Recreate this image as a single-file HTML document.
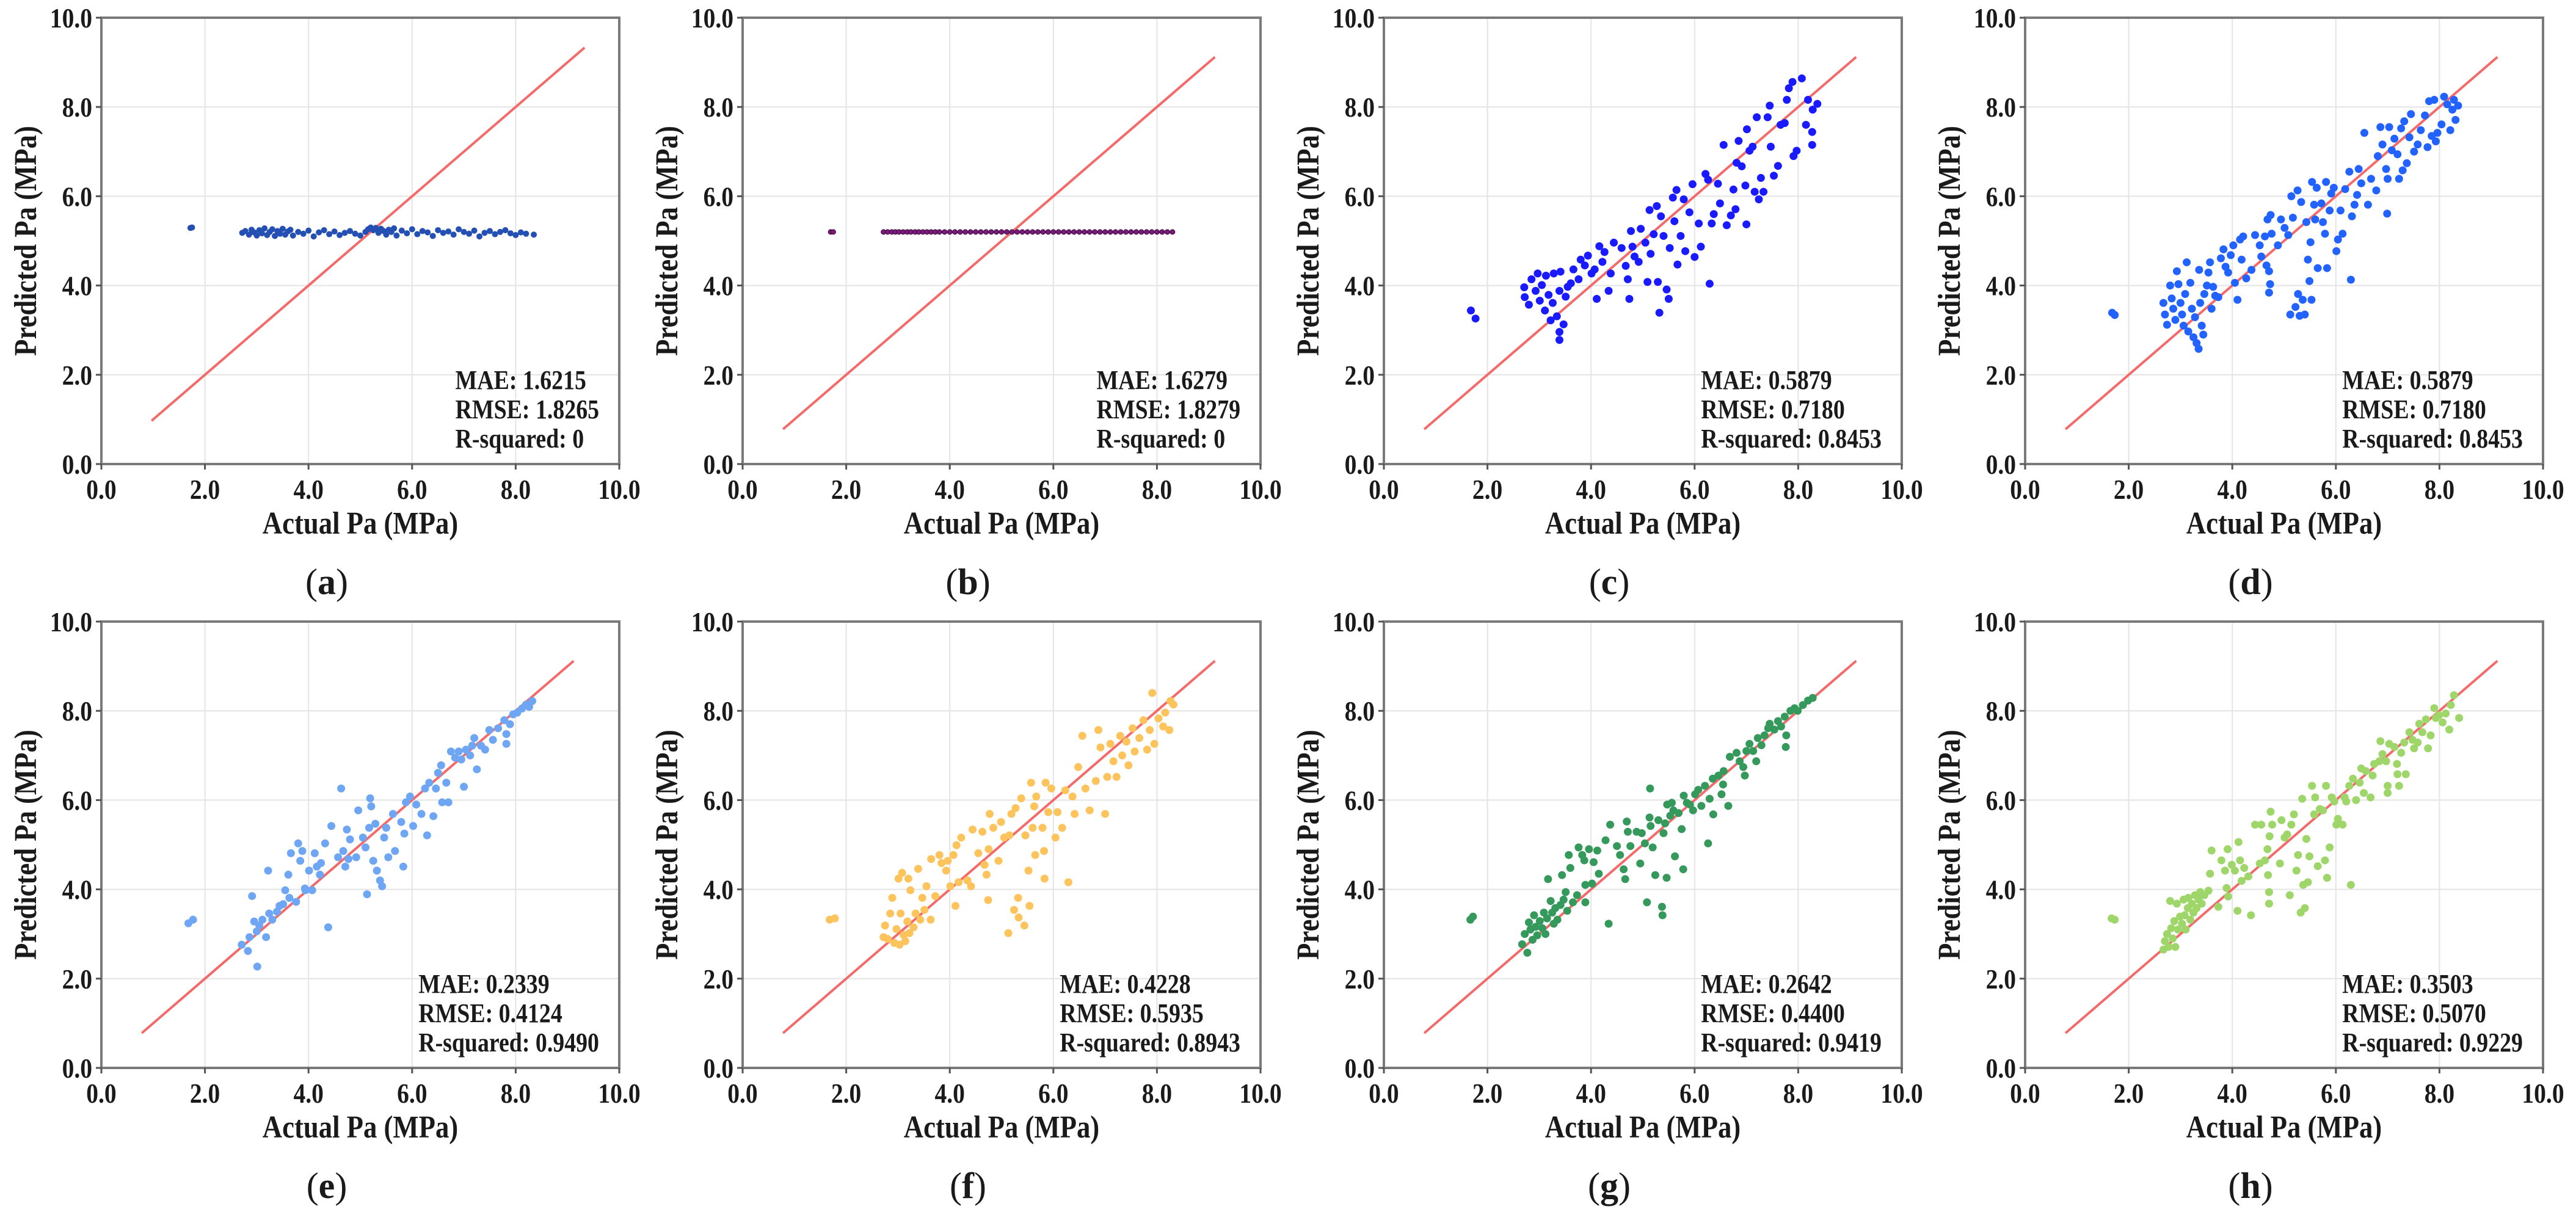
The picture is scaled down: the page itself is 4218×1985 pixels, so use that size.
<!DOCTYPE html>
<html><head><meta charset="utf-8"><style>
html,body{margin:0;padding:0;background:#fff;}
svg{display:block;}
text{font-family:"Liberation Serif","Times New Roman",serif;fill:#1a1a1a;}
</style></head><body>
<svg id="fig" width="4218" height="1985" viewBox="0 0 4218 1985" xmlns="http://www.w3.org/2000/svg"></svg>
<script>
const xTicks = [0, 2, 4, 6, 8, 10];
const yTicks = [0, 2, 4, 6, 8, 10];
const tickLabels = ["0.0", "2.0", "4.0", "6.0", "8.0", "10.0"];
const panelIds = ["a", "b", "c", "d", "e", "f", "g", "h"];
const panelColors = ["#2450b4", "#7a1a7a", "#1a1aff", "#2262ff", "#6fa6f4", "#fdc35c", "#35995c", "#9fd66a"];
const panelRadius = [5, 4, 6.5, 6.5, 6.5, 6.5, 6.5, 6.5];
const metricsMAE = ["1.6215", "1.6279", "0.5879", "0.5879", "0.2339", "0.4228", "0.2642", "0.3503"];
const metricsRMSE = ["1.8265", "1.8279", "0.7180", "0.7180", "0.4124", "0.5935", "0.4400", "0.5070"];
const metricsR2 = ["0", "0", "0.8453", "0.8453", "0.9490", "0.8943", "0.9419", "0.9229"];
const refLineStart = [0.97, 0.78, 0.78, 0.78, 0.78, 0.78, 0.78, 0.78];
const refLineEnd = [9.33, 9.12, 9.12, 9.12, 9.12, 9.12, 9.12, 9.12];

const aX = [1.72,1.75,2.72,2.78,2.85,2.9,2.95,3.0,3.05,3.1,3.15,3.2,3.25,3.3,3.35,3.4,3.45,3.5,3.55,3.6,3.65,3.7,3.8,3.9,4.0,4.1,4.2,4.3,4.4,4.5,4.6,4.7,4.8,4.9,5.0,5.1,5.15,5.2,5.25,5.3,5.35,5.4,5.45,5.5,5.55,5.6,5.65,5.7,5.8,5.9,6.0,6.1,6.2,6.3,6.4,6.5,6.6,6.7,6.8,6.9,7.0,7.1,7.2,7.3,7.4,7.5,7.6,7.7,7.8,7.9,8.0,8.1,8.2,8.35];
const aY = [5.29,5.3,5.18,5.22,5.14,5.25,5.19,5.12,5.24,5.17,5.28,5.13,5.2,5.26,5.11,5.22,5.16,5.27,5.14,5.21,5.25,5.12,5.2,5.16,5.23,5.1,5.19,5.24,5.15,5.21,5.13,5.18,5.22,5.16,5.12,5.2,5.26,5.3,5.24,5.29,5.18,5.27,5.22,5.14,5.25,5.2,5.28,5.12,5.23,5.17,5.26,5.15,5.22,5.19,5.11,5.24,5.18,5.21,5.14,5.26,5.2,5.16,5.23,5.1,5.18,5.22,5.15,5.2,5.24,5.17,5.13,5.19,5.16,5.14];
const bX = [1.7,1.75,2.72,2.8,2.88,2.95,3.02,3.1,3.18,3.25,3.33,3.4,3.48,3.56,3.64,3.72,3.8,3.9,4.0,4.1,4.2,4.3,4.4,4.5,4.6,4.7,4.8,4.9,5.0,5.1,5.2,5.3,5.4,5.5,5.6,5.7,5.8,5.9,6.0,6.1,6.2,6.3,6.4,6.5,6.6,6.7,6.8,6.9,7.0,7.1,7.2,7.3,7.4,7.5,7.6,7.7,7.8,7.9,8.0,8.1,8.2,8.3];
const bY = [5.2,5.2,5.2,5.2,5.2,5.2,5.2,5.2,5.2,5.2,5.2,5.2,5.2,5.2,5.2,5.2,5.2,5.2,5.2,5.2,5.2,5.2,5.2,5.2,5.2,5.2,5.2,5.2,5.2,5.2,5.2,5.2,5.2,5.2,5.2,5.2,5.2,5.2,5.2,5.2,5.2,5.2,5.2,5.2,5.2,5.2,5.2,5.2,5.2,5.2,5.2,5.2,5.2,5.2,5.2,5.2,5.2,5.2,5.2,5.2,5.2,5.2];
const cX = [1.68,1.77,2.71,2.72,2.80,2.85,2.93,2.97,3.01,3.05,3.11,3.13,3.18,3.22,3.26,3.28,3.34,3.39,3.39,3.39,3.41,3.47,3.51,3.55,3.61,3.66,3.76,3.80,3.88,3.94,4.01,4.07,4.11,4.16,4.22,4.26,4.34,4.38,4.44,4.59,4.67,4.71,4.74,4.77,4.80,4.84,4.92,4.96,5.05,5.09,5.13,5.15,5.21,5.27,5.29,5.32,5.35,5.40,5.46,5.50,5.52,5.58,5.61,5.65,5.67,5.73,5.79,5.82,5.90,5.96,6.0,6.08,6.12,6.21,6.26,6.29,6.33,6.37,6.45,6.49,6.56,6.62,6.70,6.75,6.79,6.81,6.85,6.91,6.98,7.0,7.01,7.06,7.12,7.16,7.20,7.24,7.28,7.33,7.41,7.45,7.47,7.53,7.61,7.66,7.74,7.78,7.82,7.89,7.91,7.97,8.07,8.15,8.19,8.27,8.27,8.28,8.37];
const cY = [3.44,3.26,3.96,3.74,3.57,4.14,3.88,4.27,3.66,4.01,3.44,4.22,3.79,3.22,3.61,4.27,3.31,3.88,2.96,2.78,4.31,3.13,3.75,3.97,4.05,4.36,4.14,4.58,4.45,4.67,4.27,4.36,3.70,4.88,4.53,4.75,3.88,4.27,4.96,4.84,4.44,4.14,3.70,5.22,4.87,4.65,4.53,5.27,4.96,4.08,5.69,4.71,5.15,5.78,4.08,3.39,5.55,5.11,3.91,3.70,4.84,5.97,5.44,6.14,4.47,5.11,5.93,4.77,5.64,6.27,4.64,5.39,4.87,6.50,6.37,4.04,5.39,5.60,6.28,5.84,7.15,5.35,5.57,6.15,5.71,6.75,7.24,6.67,6.24,5.37,7.50,7.02,7.11,6.10,7.77,5.93,6.41,6.10,7.77,8.03,7.11,6.46,6.68,7.60,7.64,8.16,8.42,8.56,6.90,7.02,8.64,7.60,8.16,7.44,7.15,7.94,8.07];
const dX = [1.68,1.73,2.67,2.70,2.74,2.80,2.83,2.86,2.90,2.93,2.96,3.0,3.03,3.06,3.09,3.12,3.15,3.19,3.22,3.25,3.28,3.31,3.35,3.36,3.38,3.41,3.44,3.46,3.51,3.54,3.57,3.60,3.63,3.67,3.73,3.78,3.83,3.87,3.92,3.97,4.02,4.05,4.1,4.15,4.18,4.21,4.27,4.37,4.44,4.53,4.56,4.63,4.66,4.68,4.71,4.73,4.74,4.71,4.76,4.88,4.94,5.01,5.08,5.12,5.14,5.17,5.22,5.26,5.27,5.30,5.33,5.36,5.40,5.43,5.46,5.49,5.51,5.53,5.54,5.58,5.60,5.63,5.65,5.72,5.75,5.79,5.81,5.83,5.88,5.91,5.96,6.01,6.04,6.09,6.13,6.18,6.26,6.29,6.31,6.36,6.41,6.44,6.49,6.55,6.62,6.68,6.78,6.81,6.86,6.90,6.97,6.99,7.0,7.03,7.08,7.13,7.19,7.22,7.26,7.29,7.32,7.37,7.42,7.45,7.51,7.58,7.64,7.72,7.77,7.80,7.85,7.90,7.93,7.96,8.04,8.09,8.15,8.21,8.25,8.28,8.31,8.36];
const dY = [3.39,3.34,3.61,3.35,3.12,4.0,3.71,3.48,3.23,4.32,4.03,3.61,3.35,3.10,3.81,4.52,2.97,4.06,3.48,2.84,3.29,2.71,2.58,4.35,3.61,3.10,2.90,3.81,4.0,4.29,4.52,3.48,3.97,3.77,3.74,4.61,4.81,4.42,4.29,4.68,4.90,4.06,3.68,5.03,4.58,5.10,4.16,4.35,5.13,4.90,4.65,5.10,4.45,5.48,4.32,4.03,5.58,3.84,5.16,4.90,5.48,5.29,5.13,3.35,6.0,5.52,3.52,6.13,3.81,3.32,5.87,3.68,3.35,5.42,4.58,4.10,4.97,3.68,6.32,5.81,5.48,6.19,4.39,5.84,5.42,5.16,6.32,4.39,5.68,6.06,6.19,4.77,5.03,5.68,5.16,6.16,6.55,4.13,5.55,5.81,6.03,6.61,6.29,7.42,5.81,6.39,6.13,6.90,7.55,7.16,6.61,5.61,6.39,7.55,7.03,7.29,6.94,6.39,7.52,6.58,7.68,6.74,7.32,7.84,7.0,7.16,7.48,7.81,7.10,8.13,7.35,8.16,7.23,7.42,7.61,8.23,8.06,7.48,7.94,8.16,7.71,8.03];
const eX = [1.68,1.77,2.71,2.83,2.86,2.91,2.95,3.0,3.01,3.05,3.11,3.18,3.22,3.24,3.30,3.39,3.44,3.51,3.55,3.61,3.63,3.66,3.76,3.80,3.84,3.88,3.93,3.94,4.01,4.07,4.12,4.16,4.22,4.24,4.32,4.38,4.44,4.57,4.63,4.67,4.71,4.74,4.77,4.80,4.92,4.96,5.05,5.10,5.13,5.17,5.19,5.21,5.25,5.29,5.32,5.38,5.42,5.46,5.50,5.54,5.63,5.67,5.79,5.83,5.85,5.88,5.96,6.02,6.08,6.18,6.25,6.29,6.33,6.41,6.46,6.50,6.56,6.58,6.66,6.70,6.75,6.83,6.90,6.95,7.0,7.04,7.12,7.16,7.20,7.25,7.33,7.41,7.49,7.56,7.66,7.78,7.82,7.82,7.89,7.95,8.03,8.12,8.20,8.26,8.32];
const eY = [3.24,3.32,2.76,2.62,2.93,3.85,3.28,3.06,2.27,3.19,3.32,2.93,4.42,3.46,3.32,3.50,3.63,3.67,3.98,4.33,3.81,4.81,3.72,5.03,4.64,4.86,4.02,3.98,4.42,3.98,4.81,4.51,4.33,4.59,5.03,3.15,5.42,4.72,6.26,4.86,4.51,5.34,4.68,5.12,4.72,5.77,5.16,4.94,3.89,5.38,6.04,5.86,4.64,5.47,4.42,4.20,4.07,5.16,5.38,4.72,5.69,4.86,5.51,4.51,5.25,5.95,6.08,5.42,5.90,5.69,6.26,5.21,6.39,5.64,6.26,6.61,6.78,5.95,6.39,5.95,7.09,6.95,7.09,6.91,6.30,7.13,7.0,7.22,7.39,6.69,7.22,7.13,7.57,7.35,7.61,7.79,7.48,7.26,7.70,7.92,7.96,8.05,8.14,8.09,8.22];
const fX = [1.68,1.78,2.72,2.75,2.80,2.85,2.89,2.93,2.97,3.01,3.03,3.05,3.08,3.11,3.14,3.18,3.20,3.22,3.24,3.30,3.34,3.39,3.43,3.47,3.51,3.55,3.63,3.64,3.72,3.80,3.84,3.93,3.96,4.01,4.07,4.11,4.13,4.17,4.22,4.34,4.41,4.44,4.55,4.63,4.67,4.71,4.74,4.75,4.77,4.84,4.94,4.99,5.05,5.13,5.15,5.19,5.24,5.27,5.32,5.33,5.38,5.44,5.46,5.52,5.54,5.57,5.60,5.63,5.65,5.67,5.79,5.82,5.83,5.85,5.90,5.96,6.04,6.08,6.17,6.23,6.29,6.37,6.41,6.48,6.56,6.62,6.70,6.82,6.87,6.91,7.0,7.04,7.10,7.16,7.22,7.29,7.33,7.41,7.45,7.53,7.57,7.66,7.74,7.81,7.86,7.91,7.95,8.03,8.12,8.16,8.24,8.26,8.32];
const fY = [3.32,3.35,2.93,3.19,2.89,3.46,3.81,2.80,3.11,4.24,2.76,3.46,4.37,2.98,2.84,3.28,4.24,3.02,3.98,3.15,3.46,4.46,3.32,3.81,3.54,4.07,3.32,4.68,3.85,4.77,4.59,4.42,4.64,4.07,4.77,3.63,4.99,4.16,5.16,4.20,4.07,5.34,4.81,5.29,4.55,4.33,3.76,4.90,5.69,5.38,4.64,5.51,5.16,3.02,5.21,5.69,3.54,5.82,3.81,3.37,6.04,3.19,5.21,4.42,3.63,6.39,5.38,5.86,4.77,6.08,5.38,4.86,4.24,6.39,5.73,6.26,5.16,5.73,5.38,6.22,4.16,6.08,5.69,6.74,7.44,6.26,5.77,6.43,7.57,7.18,5.69,6.52,7.26,6.87,6.52,7.44,7.0,7.31,6.78,7.61,7.09,7.39,7.79,7.13,7.57,8.40,7.26,7.83,7.65,7.96,7.57,8.22,8.14];
const gX = [1.67,1.72,2.67,2.72,2.77,2.80,2.83,2.87,2.90,2.93,2.96,3.01,3.06,3.09,3.12,3.15,3.17,3.22,3.25,3.28,3.31,3.35,3.41,3.44,3.47,3.51,3.54,3.57,3.60,3.65,3.73,3.76,3.83,3.87,3.89,3.89,3.96,4.02,4.05,4.12,4.15,4.28,4.34,4.37,4.50,4.56,4.63,4.66,4.69,4.71,4.76,4.88,4.95,4.98,5.04,5.08,5.13,5.14,5.15,5.19,5.24,5.30,5.37,5.38,5.40,5.43,5.46,5.47,5.53,5.56,5.59,5.62,5.69,5.75,5.78,5.79,5.85,5.91,5.97,6.01,6.07,6.13,6.20,6.26,6.29,6.35,6.36,6.46,6.52,6.55,6.56,6.65,6.68,6.81,6.87,6.94,6.97,7.0,7.06,7.13,7.19,7.22,7.29,7.35,7.42,7.45,7.54,7.61,7.67,7.74,7.76,7.77,7.85,7.93,7.99,8.09,8.19,8.28];
const gY = [3.32,3.39,2.77,3.0,2.58,3.26,3.10,2.87,3.42,3.16,2.97,3.29,3.13,3.48,3.0,3.35,4.23,3.74,3.48,3.23,3.58,3.32,3.65,4.32,3.77,3.94,3.52,4.77,4.48,3.71,3.87,4.94,4.77,4.65,3.71,4.10,4.90,4.13,4.61,4.87,4.35,5.10,3.23,5.45,4.97,4.77,4.45,4.23,5.52,5.29,4.97,5.29,4.58,5.26,5.03,3.71,5.61,6.26,5.42,4.94,4.32,5.55,3.61,3.42,5.26,5.48,4.26,5.90,5.65,5.94,5.77,4.74,5.71,5.35,4.45,6.10,5.94,5.90,5.77,6.13,6.23,5.87,6.32,5.03,6.03,6.48,5.68,6.55,6.13,6.35,6.65,5.87,6.97,7.06,6.87,6.74,6.55,7.10,7.26,7.10,6.87,7.39,7.23,7.45,7.61,7.71,7.58,7.77,7.65,7.87,7.19,7.45,8.0,8.06,8.0,8.13,8.23,8.29];
const hX = [1.67,1.73,2.67,2.70,2.74,2.77,2.80,2.82,2.85,2.88,2.90,2.93,2.95,2.99,3.03,3.06,3.08,3.10,3.14,3.15,3.19,3.22,3.25,3.28,3.31,3.35,3.38,3.41,3.46,3.54,3.57,3.60,3.73,3.79,3.86,3.89,3.91,3.92,3.99,4.05,4.10,4.12,4.15,4.18,4.23,4.31,4.36,4.44,4.53,4.56,4.63,4.68,4.69,4.71,4.71,4.72,4.74,4.77,4.92,4.95,5.01,5.06,5.11,5.14,5.19,5.24,5.27,5.32,5.35,5.37,5.40,5.43,5.46,5.49,5.54,5.58,5.60,5.65,5.69,5.75,5.79,5.81,5.83,5.88,5.92,5.97,6.01,6.04,6.13,6.17,6.20,6.26,6.29,6.33,6.39,6.46,6.49,6.54,6.58,6.67,6.71,6.74,6.84,6.86,6.90,6.97,7.0,7.0,7.03,7.13,7.18,7.19,7.22,7.26,7.32,7.35,7.42,7.48,7.51,7.58,7.61,7.67,7.74,7.78,7.83,7.90,7.93,7.99,8.06,8.12,8.19,8.22,8.28,8.38];
const hY = [3.35,3.32,2.65,2.84,3.0,2.71,3.74,3.13,2.90,3.29,2.71,3.68,3.10,3.39,3.23,3.77,3.42,3.10,3.58,3.81,3.32,3.68,3.48,3.87,3.58,3.77,3.94,3.68,3.87,3.97,4.35,4.87,3.61,4.65,4.42,4.03,4.90,3.84,4.55,4.42,3.52,5.06,4.65,4.19,4.48,4.29,3.42,5.45,4.58,5.45,4.65,4.90,4.32,3.94,3.68,5.19,5.74,5.45,4.58,5.55,5.16,5.23,3.87,5.45,5.68,4.42,4.77,3.48,6.03,4.10,3.58,5.13,4.16,4.74,6.32,5.68,6.06,4.52,5.80,5.77,4.65,6.32,4.26,4.94,6.06,5.97,5.45,5.58,5.45,6.06,5.97,6.32,4.10,6.48,6.0,6.39,6.71,6.16,6.65,6.06,6.55,6.81,6.87,7.32,7.03,6.87,6.32,6.16,7.26,7.19,6.81,6.58,6.32,7.06,7.29,6.58,7.52,7.35,7.16,7.29,7.71,7.52,7.81,7.16,7.45,8.06,7.84,7.90,7.74,7.94,7.58,8.13,8.35,7.84];
const seriesX = [aX, bX, cX, dX, eX, fX, gX, hX];
const seriesY = [aY, bY, cY, dY, eY, fY, gY, hY];

const NS = "http://www.w3.org/2000/svg";
const svg = document.getElementById("fig");
const PW = 848, PH = 731;
const colLeft = [166, 1216, 2266, 3316];
const rowTop = [29, 1018];
const SQUEEZE = 0.86;

function mk(tag, attrs, parent) {
  const e = document.createElementNS(NS, tag);
  for (const k in attrs) e.setAttribute(k, attrs[k]);
  parent.appendChild(e);
  return e;
}
function squeeze(t) {
  const w = t.getComputedTextLength();
  t.setAttribute("textLength", (w * SQUEEZE).toFixed(1));
  t.setAttribute("lengthAdjust", "spacingAndGlyphs");
  return w * SQUEEZE;
}

panelIds.forEach((pid, i) => {
  const L = colLeft[i % 4], T = rowTop[Math.floor(i / 4)];
  const sx = v => L + v / 10 * PW;
  const sy = v => T + PH - v / 10 * PH;
  const g = mk("g", {}, svg);
  
  

  xTicks.slice(1, 5).forEach(t => {
    const l = mk("line", {x1: sx(t), x2: sx(t), y1: T, y2: T + PH, stroke: "#e4e4e4", "stroke-width": 2}, g);
    
    
  });
  yTicks.slice(1, 5).forEach(t => {
    const l = mk("line", {x1: L, x2: L + PW, y1: sy(t), y2: sy(t), stroke: "#e4e4e4", "stroke-width": 2}, g);
    
    
  });

  const rl = mk("line", {x1: sx(refLineStart[i]), y1: sy(refLineStart[i]), x2: sx(refLineEnd[i]), y2: sy(refLineEnd[i]), stroke: "#f46a6a", "stroke-width": 4}, g);
  
  

  const xs = seriesX[i], ys = seriesY[i];
  for (let k = 0; k < xs.length; k++) {
    const c = mk("circle", {cx: sx(xs[k]), cy: sy(ys[k]), r: panelRadius[i], fill: panelColors[i], stroke: i === 1 ? "#3a0a3a" : "none", "stroke-width": 1}, g);
    
    
  }

  const fr = mk("rect", {x: L, y: T, width: PW, height: PH, fill: "none", stroke: "#7a7a7a", "stroke-width": 4}, g);
  
  

  xTicks.forEach((t, k) => {
    const tk = mk("line", {x1: sx(t), x2: sx(t), y1: T + PH, y2: T + PH + 9, stroke: "#555", "stroke-width": 3}, g);
    
    
    const tl = mk("text", {x: sx(t), y: T + PH + 57, "text-anchor": "middle", "font-size": 46, "font-weight": "bold"}, g);
    tl.textContent = tickLabels[k];
    
    
    squeeze(tl);
  });
  yTicks.forEach((t, k) => {
    const tk = mk("line", {x1: L - 9, x2: L, y1: sy(t), y2: sy(t), stroke: "#555", "stroke-width": 3}, g);
    
    
    const tl = mk("text", {x: L - 15, y: sy(t) + 16, "text-anchor": "end", "font-size": 46, "font-weight": "bold"}, g);
    tl.textContent = tickLabels[k];
    
    
    squeeze(tl);
  });

  const xt = mk("text", {x: L + PW / 2, y: T + PH + 114, "text-anchor": "middle", "font-size": 52, "font-weight": "bold"}, g);
  xt.textContent = "Actual Pa (MPa)";
  
  
  squeeze(xt);
  const yt = mk("text", {x: 0, y: 0, "text-anchor": "middle", "font-size": 52, "font-weight": "bold", transform: "translate(" + (L - 107) + "," + (T + PH / 2) + ") rotate(-90)"}, g);
  yt.textContent = "Predicted Pa (MPa)";
  
  
  squeeze(yt);

  const lines = ["MAE: " + metricsMAE[i], "RMSE: " + metricsRMSE[i], "R-squared: " + metricsR2[i]];
  const ann = mk("g", {}, g);
  
  
  const tnodes = lines.map((s, k) => {
    const t = mk("text", {x: 0, y: T + 608 + k * 48, "font-size": 44, "font-weight": "bold"}, ann);
    t.textContent = s;
    
    
    return t;
  });
  let maxW = 0;
  tnodes.forEach(t => { maxW = Math.max(maxW, squeeze(t)); });
  tnodes.forEach(t => t.setAttribute("x", L + 815 - maxW));

  const cap = mk("text", {x: L + 369, y: T + PH + 213, "text-anchor": "middle", "font-size": 60}, g);
  
  
  const p1 = mk("tspan", {}, cap); p1.textContent = "(";
  const p2 = mk("tspan", {"font-weight": "bold"}, cap); p2.textContent = pid;
  const p3 = mk("tspan", {}, cap); p3.textContent = ")";
});
</script>
</body></html>
